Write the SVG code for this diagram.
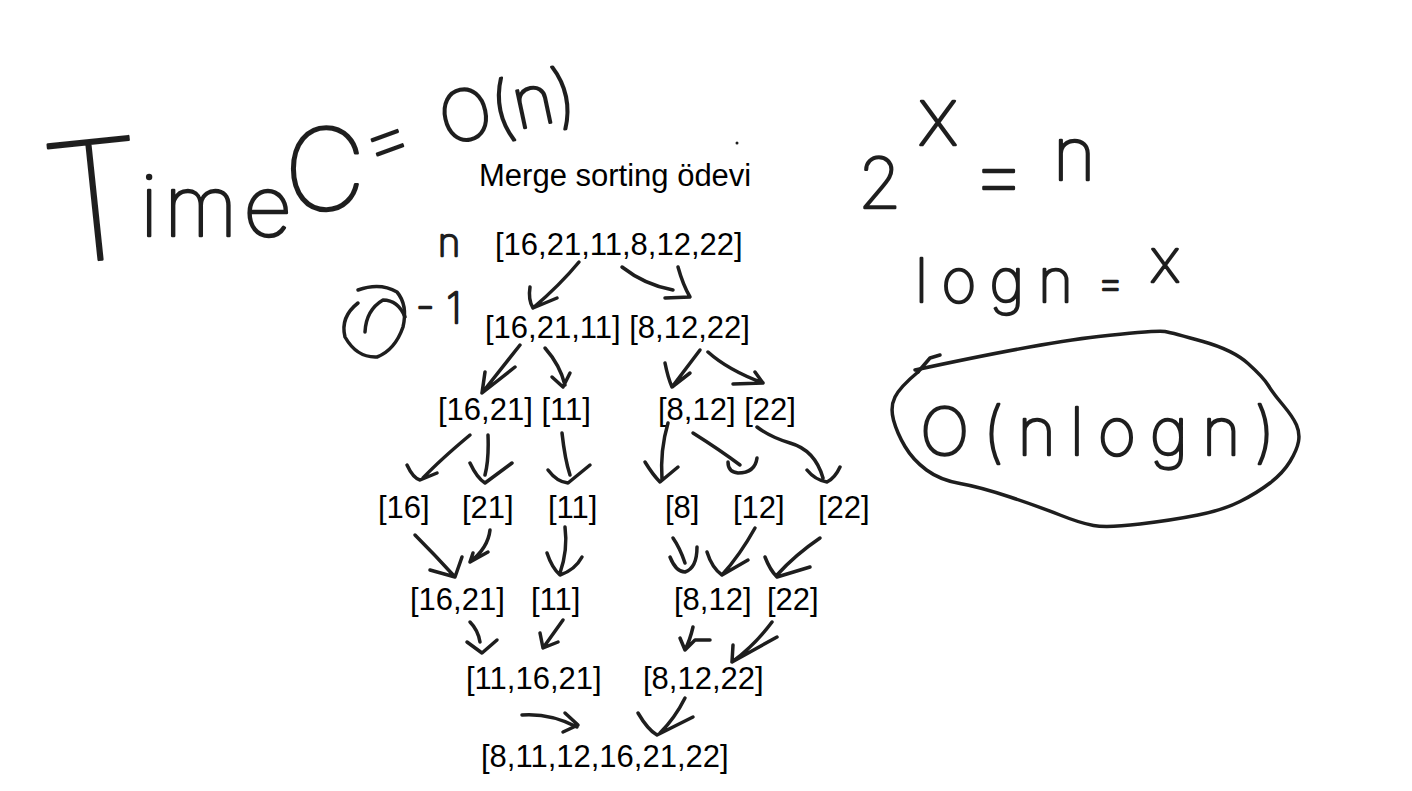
<svg xmlns="http://www.w3.org/2000/svg" width="1412" height="791" viewBox="0 0 1412 791">
<style>
.ink{fill:none;stroke:#1e1e1e;stroke-width:3.5;stroke-linecap:round;stroke-linejoin:round}
.lbl{font-family:"Liberation Sans",Arial,sans-serif;font-size:31px;fill:#000}
.hw{font-family:Inter,Roboto,"DejaVu Sans",sans-serif;font-weight:100;fill:#1e1e1e;stroke:#1e1e1e;stroke-width:2.5;stroke-linejoin:round;stroke-linecap:round}
</style>
<rect width="1412" height="791" fill="#fff"/>
<g id="title"><text class="lbl" x="479" y="186">Merge sorting ödevi</text></g>
<g id="n-root"><text class="lbl" x="495" y="255">[16,21,11,8,12,22]</text></g>
<g id="n-l1"><text class="lbl" x="485" y="338">[16,21,11] [8,12,22]</text></g>
<g id="n-l2a"><text class="lbl" x="438" y="420">[16,21] [11]</text></g>
<g id="n-l2b"><text class="lbl" x="658" y="420">[8,12] [22]</text></g>
<g id="n-l3">
<text class="lbl" x="378" y="518">[16]</text>
<text class="lbl" x="462" y="518">[21]</text>
<text class="lbl" x="548" y="518">[11]</text>
<text class="lbl" x="665" y="518">[8]</text>
<text class="lbl" x="733" y="518">[12]</text>
<text class="lbl" x="818" y="518">[22]</text>
</g>
<g id="n-l4">
<text class="lbl" x="410" y="610">[16,21]</text>
<text class="lbl" x="531" y="610">[11]</text>
<text class="lbl" x="674" y="610">[8,12]</text>
<text class="lbl" x="767" y="610">[22]</text>
</g>
<g id="n-l5">
<text class="lbl" x="466" y="689">[11,16,21]</text>
<text class="lbl" x="643" y="689">[8,12,22]</text>
</g>
<g id="n-final"><text class="lbl" x="481" y="767">[8,11,12,16,21,22]</text></g>

<g id="note-time">
<text class="hw" x="50" y="265" font-size="165" transform="rotate(-6 50 265)">T</text>
<text class="hw" x="140" y="236" font-size="85" textLength="152" lengthAdjust="spacing">ime</text>
<text class="hw" x="284" y="210" font-size="113">C</text>
<text class="hw" x="390" y="165" font-size="80" text-anchor="middle" transform="rotate(-20 390 150)">=</text>
<text class="hw" x="445" y="145" font-size="70" transform="rotate(-12 445 145)">O(n)</text>
<circle cx="737" cy="143" r="1.5" fill="#1e1e1e"/>
</g>
<g id="note-n"><text class="hw" x="438" y="256" font-size="38">n</text></g>
<g id="note-circ">
<path class="ink" d="M358,290 Q380,282 397,292 Q408,305 403,327 Q395,350 377,357 Q357,358 345,337 Q340,317 358,303"/>
<path class="ink" d="M365,332 Q366,310 383,300 Q398,300 405,317"/>
<text class="hw" x="416" y="323" font-size="42">- 1</text>
</g>
<g id="note-exp">
<text class="hw" x="858" y="208" font-size="70">2</text>
<text class="hw" x="918" y="145" font-size="80">x</text>
<text class="hw" x="970" y="205" font-size="90">=</text>
<text class="hw" x="1053" y="180" font-size="73">n</text>
</g>
<g id="note-log">
<text class="hw" x="915" y="302" font-size="60" textLength="158" lengthAdjust="spacing">logn</text>
<text class="hw" x="1097" y="297" font-size="42">=</text>
<text class="hw" x="1150" y="282" font-size="60">x</text>
</g>
<g id="note-result">
<path class="ink" d="M915,370 Q1040,343 1098.5,336.5 Q1157,330 1165,331.5 Q1173,333 1203,341.5 Q1233,350 1248,363.5 Q1263,377 1268,385 Q1273,393 1283,405 Q1293,417 1296.5,425 Q1300,433 1298.5,441.5 Q1297,450 1290,461.5 Q1283,473 1270,483 Q1257,493 1240,501.5 Q1223,510 1198,515 Q1173,520 1140,524 Q1107,528 1093.5,525.5 Q1080,523 1060,515 Q1040,507 1010,497 Q980,487 960,483.5 Q940,480 926.5,470 Q913,460 905,446.5 Q897,433 893.5,420 Q890,407 895,397 Q900,387 918,372"/>
<path class="ink" d="M940,355 L930,358 L918,372"/>
<text class="hw" x="920" y="455" font-size="66" textLength="355" lengthAdjust="spacing">O(nlogn)</text>
</g>

<g id="connectors">
<path class="ink" d="M579,262 Q560,285 533,308 M530,287 Q528,300 533,308 L557,298"/>
<path class="ink" d="M622,267 Q645,285 673,290 M678,267 Q683,285 690,297 L665,298"/>
<path class="ink" d="M520,345 L482,393 M485,372 L482,393 L515,367"/>
<path class="ink" d="M545,348 Q560,365 565,385 M552,377 L563,387 L570,373"/>
<path class="ink" d="M700,350 L672,387 M665,363 Q668,378 672,387 L690,373"/>
<path class="ink" d="M708,352 Q728,370 763,383 M755,372 L763,383 L733,384"/>
<path class="ink" d="M470,435 Q440,460 423,478 M407,465 Q413,478 420,480 L437,473"/>
<path class="ink" d="M488,435 Q489,460 485,475 M470,463 Q477,478 485,483 L512,463"/>
<path class="ink" d="M562,433 Q565,460 570,475 M548,470 Q557,482 568,483 L590,465"/>
<path class="ink" d="M668,423 Q660,450 662,480 M645,462 Q653,475 660,482 L678,467"/>
<path class="ink" d="M693,433 Q720,450 740,465 M728,462 Q728,472 738,473 Q755,473 757,458"/>
<path class="ink" d="M757,427 Q770,437 790,443 Q815,450 823,478 M807,470 Q815,480 827,482 Q835,478 840,467"/>
<path class="ink" d="M415,535 Q435,555 455,577 M430,570 L455,577 L462,557"/>
<path class="ink" d="M490,530 Q488,548 470,562 M473,553 L470,562 L488,552"/>
<path class="ink" d="M565,527 Q568,550 560,573 M547,553 Q552,568 560,575 Q575,570 582,557"/>
<path class="ink" d="M673,538 Q680,548 685,563 M670,557 Q676,572 685,572 Q697,568 697,547"/>
<path class="ink" d="M755,528 Q740,555 722,575 M707,552 Q712,568 722,575 L748,560"/>
<path class="ink" d="M820,538 Q795,555 777,575 M765,557 Q770,570 777,577 L810,567"/>
<path class="ink" d="M470,622 Q478,630 480,642 M467,642 L482,653 L497,640"/>
<path class="ink" d="M563,620 L543,648 M540,633 L543,648 L558,642"/>
<path class="ink" d="M693,627 Q690,640 685,650 M680,638 L685,650 L695,640 L710,640"/>
<path class="ink" d="M772,622 Q755,645 732,662 M733,645 L732,662 L777,637"/>
<path class="ink" d="M522,715 Q550,713 577,727 M565,713 L578,725 L563,732"/>
<path class="ink" d="M685,698 Q675,718 660,733 M638,713 Q648,730 657,735 L693,717"/>
</g>
</svg>
